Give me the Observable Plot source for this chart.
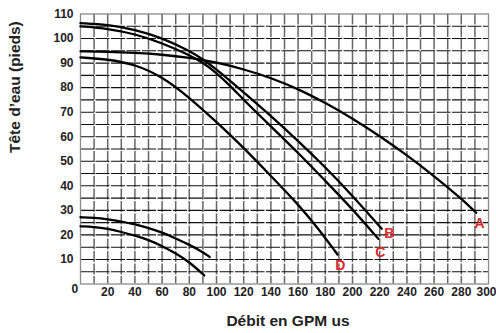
<!DOCTYPE html>
<html>
<head>
<meta charset="utf-8">
<script src="https://cdn.jsdelivr.net/npm/d3@7"></script>
<script src="https://cdn.jsdelivr.net/npm/@observablehq/plot@0.6"></script>
<style>
  html, body { margin: 0; padding: 0; background: #fff; }
</style>
</head>
<body>
<div id="chart"></div>
<script>
// ---- Data ----
const flowA = [0, 20, 40, 60, 80, 100, 120, 140, 160, 180, 200, 220, 240, 260, 280, 291];
const headA = [94.8, 94.6, 94.2, 93.5, 92.2, 90.3, 87.5, 84, 79.5, 73.8, 67.5, 60.3, 52.5, 44, 34.8, 29];

const flowB = [0, 20, 40, 60, 80, 90, 100, 110, 120, 140, 160, 180, 200, 221.5];
const headB = [106.3, 105.7, 103.7, 100.3, 95, 91.6, 87.4, 82.8, 78, 68.5, 58.3, 47.6, 36, 22.5];

const flowC = [0, 20, 40, 60, 80, 90, 100, 110, 120, 140, 160, 180, 200, 219];
const headC = [105, 104.1, 101.9, 98.2, 93.3, 90.2, 86, 80.8, 75, 64.2, 53.5, 42, 30.5, 18.4];

const flowD = [0, 20, 40, 60, 80, 100, 120, 140, 160, 175, 189];
const headD = [92.3, 91.6, 89.5, 84.5, 76, 66, 55.5, 44, 32.5, 22.5, 12];

const flowE = [0, 10, 20, 30, 40, 50, 60, 70, 80, 90, 95];
const headE = [27.2, 27, 26.4, 25.5, 24.3, 22.8, 21, 18.6, 16, 13, 11];

const flowF = [0, 10, 20, 30, 40, 50, 60, 70, 80, 91];
const headF = [23.5, 23.3, 22.5, 21.2, 19.8, 18, 15.5, 12.5, 9, 3.5];

const curveLabels = ["A", "B", "C", "D"];
const labelFlow = [293.5, 227, 220.5, 191];
const labelHead = [24.5, 20.5, 13, 7.5];

const xTicks = [20, 40, 60, 80, 100, 120, 140, 160, 180, 200, 220, 240, 260, 280];
const xLastTick = [300];
const yTicks = [10, 20, 30, 40, 50, 60, 70, 80, 90, 100, 110];
const xTitle = "Débit en GPM us";
const yTitle = "Tête d’eau (pieds)";

// ---- Build tables ----
function series(name, xs, ys) { return xs.map((x, i) => ({name, flow: x, head: ys[i]})); }
const curves = [
  series("A", flowA, headA),
  series("B", flowB, headB),
  series("C", flowC, headC),
  series("D", flowD, headD),
  series("E", flowE, headE),
  series("F", flowF, headF)
].flat();
const labels = curveLabels.map((t, i) => ({t, flow: labelFlow[i], head: labelHead[i]}));

const hGrid = d3.range(5, 110, 5);
const vGrid = d3.range(10, 300, 10);

const chart = Plot.plot({
  width: 496,
  height: 333,
  marginLeft: 80,
  marginRight: 8,
  marginTop: 13.5,
  marginBottom: 49.5,
  x: {domain: [0, 300]},
  y: {domain: [0, 110]},
  style: {fontFamily: "'Liberation Sans', Arial, sans-serif", fontSize: "12px", fontWeight: "bold", color: "#222", background: "#fff"},
  marks: [
    Plot.ruleX(vGrid, {stroke: "#666", strokeWidth: 1.5, strokeDasharray: "11,1.5"}),
    Plot.ruleY(hGrid, {stroke: "#111", strokeWidth: 1.1, strokeDasharray: "14,1.5"}),
    Plot.frame({stroke: "#8a8a8a", strokeWidth: 1.3}),
    Plot.line(curves, {x: "flow", y: "head", z: "name", stroke: "#000", strokeWidth: 2.3, curve: "basis"}),
    Plot.text(labels, {x: "flow", y: "head", text: "t", fill: "#dd2a2f", fontSize: 14, fontWeight: "bold"}),
    Plot.axisX(xTicks, {tickSize: 0, tickPadding: 3, label: null, fontSize: 12, fontWeight: "bold"}),
    Plot.axisX(xLastTick, {tickSize: 0, tickPadding: 3, label: null, fontSize: 12, fontWeight: "bold", dx: -2}),
    Plot.axisY(yTicks, {tickSize: 0, tickPadding: 7, label: null, fontSize: 12, fontWeight: "bold"}),
    Plot.text(["0"], {frameAnchor: "bottom-left", dx: -9, dy: 9, fontSize: 12, fontWeight: "bold", fill: "#222"}),
    Plot.text([xTitle], {frameAnchor: "bottom", dx: 3.5, dy: 41.5, fontSize: 15.5, fontWeight: "bold", fill: "#222"}),
    Plot.text([yTitle], {frameAnchor: "left", dx: -65.5, dy: 4, rotate: -90, fontSize: 15.5, fontWeight: "bold", fill: "#222"})
  ]
});
document.getElementById("chart").appendChild(chart);
</script>
</body>
</html>
